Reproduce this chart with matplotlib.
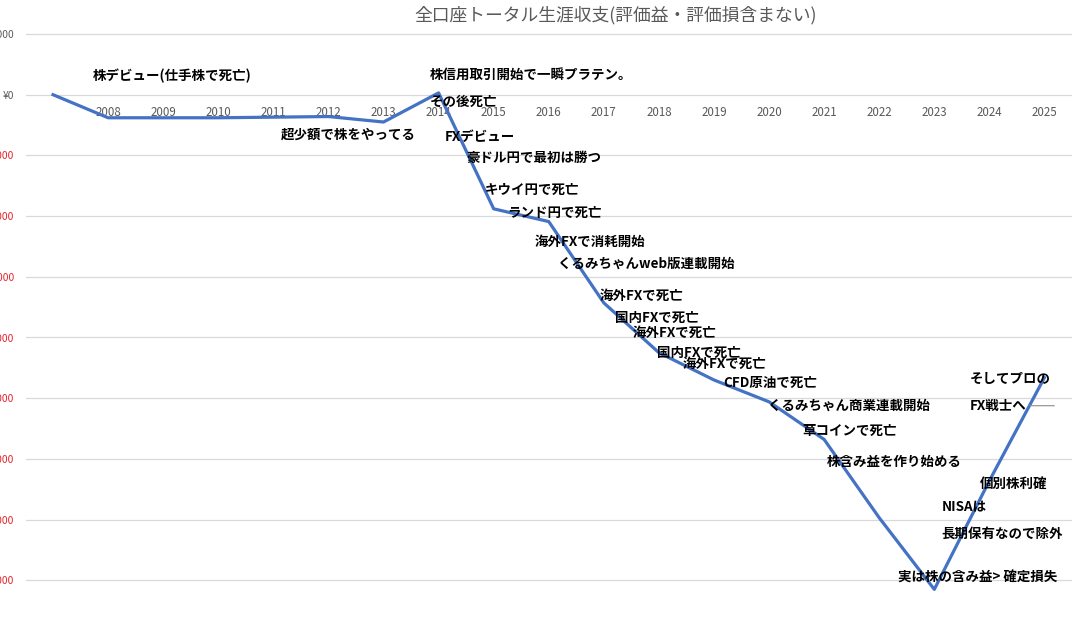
import matplotlib
matplotlib.use("Agg")
import matplotlib.pyplot as plt
from matplotlib.ticker import FuncFormatter
import numpy as np

plt.rcParams['font.family'] = ['Noto Sans CJK JP', 'DejaVu Sans']

# data (yen)
years = [2007, 2008, 2009, 2010, 2011, 2012, 2013, 2014, 2015, 2016,
         2017, 2018, 2019, 2020, 2021, 2022, 2023, 2024, 2025]
year_labels = [''] + [str(y) for y in years[1:]]
balance = [0, -380000, -380000, -380000, -370000, -360000, -450000, 30000,
           -1880000, -2090000, -3430000, -4250000, -4700000, -5060000,
           -5680000, -6970000, -8150000, -6360000, -4660000]

title = '全口座トータル生涯収支(評価益・評価損含まない)'

# annotations: (text, x position in categories, y in yen)
notes = [
    ('株デビュー(仕手株で死亡)', 0.73, 310000),
    ('株信用取引開始で一瞬プラテン。', 6.84, 310000),
    ('その後死亡', 6.84, -115000),
    ('超少額で株をやってる', 4.14, -660000),
    ('FXデビュー', 7.11, -690000),
    ('豪ドル円で最初は勝つ', 7.51, -1050000),
    ('キウイ円で死亡', 7.84, -1565000),
    ('ランド円で死亡', 8.24, -1944000),
    ('海外FXで消耗開始', 8.75, -2420000),
    ('くるみちゃんweb版連載開始', 9.17, -2784000),
    ('海外FXで死亡', 9.93, -3311000),
    ('国内FXで死亡', 10.20, -3674000),
    ('海外FXで死亡', 10.53, -3920000),
    ('国内FXで死亡', 10.96, -4250000),
    ('海外FXで死亡', 11.43, -4432000),
    ('CFD原油で死亡', 12.16, -4745000),
    ('くるみちゃん商業連載開始', 12.98, -5124000),
    ('草コインで死亡', 13.61, -5535000),
    ('株含み益を作り始める', 14.05, -6046000),
    ('そしてプロの', 16.64, -4680000),
    ('個別株利確', 16.82, -6410000),
    ('NISAは', 16.13, -6804000),
    ('長期保有なので除外', 16.13, -7232000),
    ('実は株の含み益> 確定損失', 15.34, -7957000),
]

fig = plt.figure(figsize=(10.8, 6.36), dpi=100)
ax = fig.add_axes([25.5 / 1080, 0, 1046.5 / 1080, 606 / 636])

x = np.arange(len(years))
ax.plot(x, balance, color='#4472C4', lw=2.3, zorder=3, solid_joinstyle='round')

ax.set_xlim(-0.5, len(years) - 0.5)
ax.set_ylim(-8.918e6, 1.066e6)

ax.set_yticks(np.arange(-8, 2) * 1e6)
ax.yaxis.set_major_formatter(FuncFormatter(
    lambda v, p: ('¥{:,.0f}'.format(v) if v >= 0 else '-¥{:,.0f}'.format(-v))))
ax.grid(axis='y', color='#D9D9D9', lw=0.9, zorder=0)
ax.tick_params(axis='y', length=0, pad=8, labelsize=7.4)
for lbl, v in zip(ax.get_yticklabels(), ax.get_yticks()):
    lbl.set_color('#595959' if v >= 0 else '#E3242B')

ax.set_xticks(x)
ax.set_xticklabels(year_labels)
ax.spines['bottom'].set_position(('data', 0))
ax.tick_params(axis='x', length=0, pad=8, labelsize=8.3, labelcolor='#595959')
for s in ax.spines.values():
    s.set_visible(False)

for txt, tx, ty in notes:
    ax.text(tx, ty, txt, fontsize=9.7, fontweight='bold', color='black',
            ha='left', va='center', zorder=4)

# label with a leader line
ax.annotate('FX戦士へ', xy=(18.18, -5.124e6), xytext=(16.64, -5.124e6),
            fontsize=9.7, fontweight='bold', ha='left', va='center', zorder=4,
            arrowprops=dict(arrowstyle='-', color='#8C8C8C', lw=0.8,
                            shrinkA=0, shrinkB=0, relpos=(1, 0.5)))

fig.text(616 / 1080, 1 - 15 / 636, title, ha='center', va='center',
         fontsize=12.8, color='#595959')

fig.savefig('out.png', dpi=100)
